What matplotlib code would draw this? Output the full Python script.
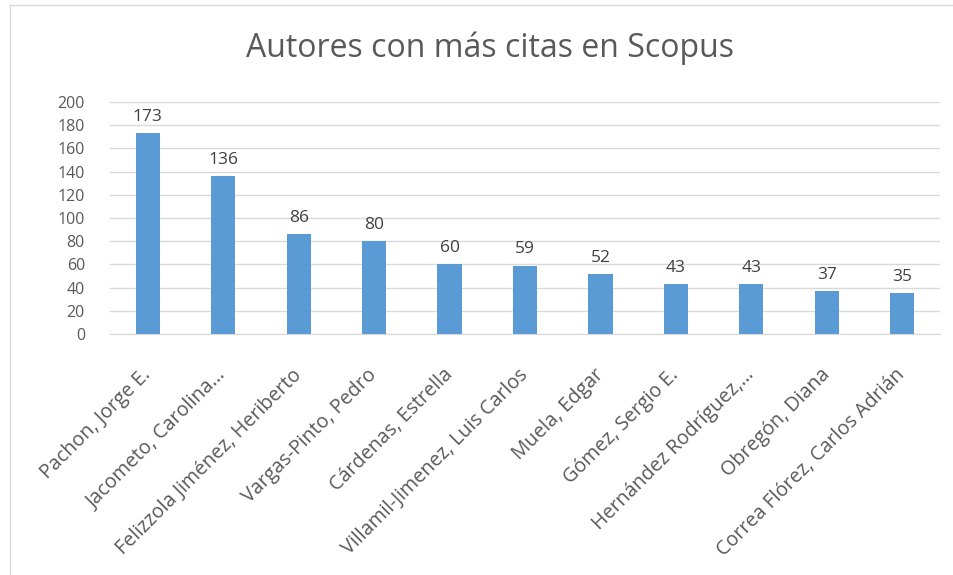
import matplotlib
matplotlib.use("Agg")
import matplotlib.pyplot as plt
from matplotlib.lines import Line2D
from matplotlib.transforms import ScaledTranslation

categories = ["Pachon, Jorge E.", "Jacometo, Carolina…", "Felizzola Jiménez, Heriberto",
              "Vargas-Pinto, Pedro", "Cárdenas, Estrella", "Villamil-Jimenez, Luis Carlos",
              "Muela, Edgar", "Gómez, Sergio E.", "Hernández Rodríguez,…",
              "Obregón, Diana", "Correa Flórez, Carlos Adrián"]
values = [173, 136, 86, 80, 60, 59, 52, 43, 43, 37, 35]
yticks = list(range(0, 201, 20))
title = "Autores con más citas en Scopus"

plt.rcParams['font.family'] = ['Open Sans', 'DejaVu Sans']

fig = plt.figure(figsize=(9.54, 5.75), dpi=100)
ax = fig.add_axes([110/954, 1-334/575, 830/954, (334-102)/575])

x = list(range(len(categories)))
bars = ax.bar(x, values, width=0.32, color='#5B9BD5', zorder=3)
for xi, v in zip(x, values):
    ax.text(xi, v + 7, str(v), ha='center', va='bottom', fontsize=12.5, color='#404040')

ax.set_xlim(-0.5, len(categories) - 0.5)
ax.set_ylim(0, 200)
ax.set_yticks(yticks)
ax.set_yticklabels([str(t) for t in yticks], fontsize=11.5, color='#595959')
ax.set_xticks(x)
ax.set_xticklabels([])
offset = ScaledTranslation(-7/100, -31/100, fig.dpi_scale_trans)
for xi, lab in zip(x, categories):
    ax.text(xi, 0, lab, transform=ax.get_xaxis_transform() + offset, rotation=45,
            ha='right', va='top', rotation_mode='anchor', fontsize=14.2, color='#595959')
ax.tick_params(axis='both', length=0)
ax.tick_params(axis='y', pad=18)
ax.grid(axis='y', color='#D9D9D9', linewidth=1, zorder=0)
for s in ['top', 'right', 'left']:
    ax.spines[s].set_visible(False)
ax.spines['bottom'].set_color('#D9D9D9')

fig.text(490/954, 1-48/575, title, ha='center', va='center', fontsize=23, color='#595959')

# chart border
fig.add_artist(Line2D([10/954, 10/954], [0, 1-5/575], transform=fig.transFigure, color='#D9D9D9', lw=1))
fig.add_artist(Line2D([10/954, 1], [1-5/575, 1-5/575], transform=fig.transFigure, color='#D9D9D9', lw=1))

fig.savefig('out.png', dpi=100)
